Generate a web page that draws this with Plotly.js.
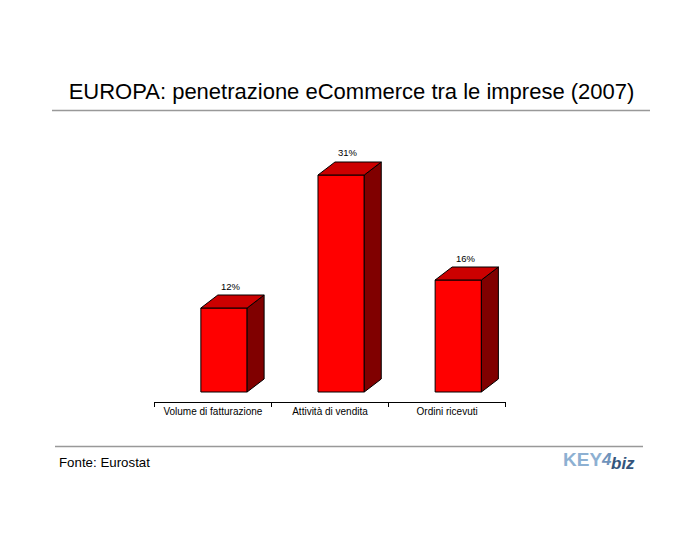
<!DOCTYPE html>
<html>
<head>
<meta charset="utf-8">
<script src="https://cdn.plot.ly/plotly-3.0.1.min.js"></script>
<style>html,body{margin:0;padding:0;background:#fff;}#chart{width:700px;height:550px;}</style>
</head>
<body>
<div id="chart"></div>
<script>
// ---- data ----
var categories = ["Volume di fatturazione", "Attività di vendita", "Ordini ricevuti"];
var values = [12, 31, 16];
var valueLabels = ["12%", "31%", "16%"];
var chartTitle = "EUROPA: penetrazione eCommerce tra le imprese (2007)";
var sourceText = "Fonte: Eurostat";

// ---- 3D look (styling constants) ----
var barOffset = -0.1025;   // left edge of front face relative to category centre
var barWidth = 0.395;
var depthX = 0.145;        // depth in x-axis units
var depthY = 13 / 7;       // depth in y-axis units
var FONT = "Liberation Sans, Arial, sans-serif";

var pos = categories.map(function (c, i) { return i; });

var topX = [], topY = [], sideX = [], sideY = [];
values.forEach(function (v, i) {
  var x0 = i + barOffset, x1 = x0 + barWidth;
  topX.push(x0, x1, x1 + depthX, x0 + depthX, x0, null);
  topY.push(v, v, v + depthY, v + depthY, v, null);
  sideX.push(x1, x1 + depthX, x1 + depthX, x1, x1, null);
  sideY.push(0, depthY, v + depthY, v, 0, null);
});

var traces = [
  {
    type: "scatter", mode: "lines", x: sideX, y: sideY, fill: "toself",
    fillcolor: "#800000", line: { color: "#000", width: 1 }, hoverinfo: "skip", showlegend: false
  },
  {
    type: "scatter", mode: "lines", x: topX, y: topY, fill: "toself",
    fillcolor: "#CC0000", line: { color: "#000", width: 1 }, hoverinfo: "skip", showlegend: false
  },
  {
    type: "bar", x: pos, y: values, width: barWidth, offset: barOffset,
    marker: { color: "#FF0000", line: { color: "#000", width: 1 } },
    hoverinfo: "skip", showlegend: false
  }
];

var annotations = values.map(function (v, i) {
  return {
    xref: "x", yref: "y",
    x: i + barOffset + barWidth / 2 + depthX / 2 - 0.01,
    y: v + depthY, yshift: 9, yanchor: "middle", xanchor: "center",
    text: valueLabels[i], showarrow: false,
    font: { family: FONT, size: 9.5, color: "#000" }
  };
});

annotations.push({
  xref: "paper", yref: "paper", x: 57 / 700, y: 1 - 462 / 550,
  xanchor: "left", yanchor: "middle", text: sourceText, showarrow: false,
  font: { family: FONT, size: 13.3, color: "#000" }
});
// logo
annotations.push({
  xref: "paper", yref: "paper", x: 561 / 700, y: 1 - 459 / 550,
  xanchor: "left", yanchor: "middle", text: "<b>KEY</b>", showarrow: false,
  font: { family: FONT, size: 19, color: "#8db0d2" }
});
annotations.push({
  xref: "paper", yref: "paper", x: 599 / 700, y: 1 - 459 / 550,
  xanchor: "left", yanchor: "middle", text: "<b><i>4</i></b>", showarrow: false,
  font: { family: FONT, size: 17, color: "#6f93bb" }
});
annotations.push({
  xref: "paper", yref: "paper", x: 609 / 700, y: 1 - 463 / 550,
  xanchor: "left", yanchor: "middle", text: "<b><i>biz</i></b>", showarrow: false,
  font: { family: FONT, size: 17, color: "#34557c" }
});

var layout = {
  width: 700, height: 550,
  margin: { l: 0, r: 0, t: 0, b: 0 },
  paper_bgcolor: "#fff", plot_bgcolor: "rgba(0,0,0,0)",
  title: {
    text: chartTitle, xref: "paper", yref: "container",
    x: 351.5 / 700, xanchor: "center", y: 1 - 91 / 550, yanchor: "middle",
    font: { family: FONT, size: 22, color: "#000" }
  },
  xaxis: {
    domain: [154.3 / 700, 505.7 / 700],
    range: [-0.5, 2.5], fixedrange: true,
    showgrid: false, zeroline: false,
    showline: true, linecolor: "#000", linewidth: 1,
    tickvals: pos, ticktext: categories, ticks: "",
    tickfont: { family: FONT, size: 10, color: "#000" },
    minor: { ticks: "outside", tick0: -0.5, dtick: 1, ticklen: 4, tickcolor: "#000", tickwidth: 1, showgrid: false }
  },
  yaxis: {
    domain: [1 - 402 / 550, 1 - 140 / 550],
    range: [-10 / 7, 36], visible: false, fixedrange: true
  },
  shapes: [
    { type: "line", xref: "paper", yref: "paper", x0: 52 / 700, x1: 650 / 700, y0: 1 - 110.5 / 550, y1: 1 - 110.5 / 550, line: { color: "#999", width: 1.5 } },
    { type: "line", xref: "paper", yref: "paper", x0: 55 / 700, x1: 643 / 700, y0: 1 - 446.5 / 550, y1: 1 - 446.5 / 550, line: { color: "#999", width: 1.5 } }
  ],
  annotations: annotations,
  showlegend: false
};

Plotly.newPlot("chart", traces, layout, { displayModeBar: false, staticPlot: true });
</script>
</body>
</html>
